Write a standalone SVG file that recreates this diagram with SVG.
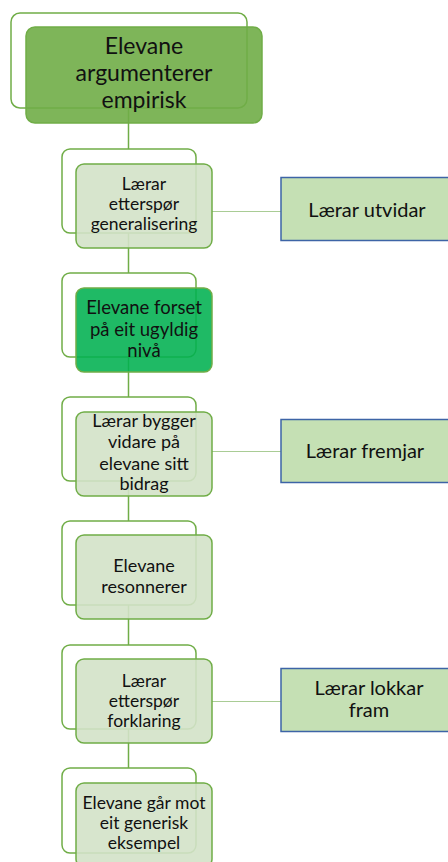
<svg xmlns="http://www.w3.org/2000/svg" width="448" height="862" viewBox="0 0 448 862">
  <style>
    .spine { stroke: #70AD47; stroke-width: 1.5; fill: none; }
    .branch { stroke: #A9CC95; stroke-width: 1; fill: none; }
    .back { fill: #FFFFFF; stroke: #70AD47; stroke-width: 1.5; }
    .front-light { fill: #D3E2C8; fill-opacity: 0.9; stroke: #70AD47; stroke-width: 1.5; }
    .front-main { fill: #70AD47; fill-opacity: 0.9; stroke: #70AD47; stroke-width: 1.5; }
    .front-bright { fill: #00B050; fill-opacity: 0.88; stroke: #70AD47; stroke-width: 1.5; }
    .side { fill: #C5E0B4; stroke: #3D64A6; stroke-width: 1.5; }
    text { font-family: Lato, "Noto Sans", "Liberation Sans", sans-serif; fill: #111111; text-anchor: middle; }
    .t-big { font-size: 23px; }
    .t-19 { font-size: 18.5px; }
    .t-185 { font-size: 18px; }
    .t-18 { font-size: 17.5px; }
    .t-side { font-size: 20px; }
  </style>

  <!-- connectors: vertical spine and branches to the side boxes -->
  <g id="connectors">
    <line class="spine" x1="128.5" y1="108" x2="128.5" y2="790"/>
    <line class="branch" x1="212" y1="211.5" x2="281" y2="211.5"/>
    <line class="branch" x1="212" y1="451.5" x2="281" y2="451.5"/>
    <line class="branch" x1="212" y1="701.5" x2="281" y2="701.5"/>
  </g>

  <g id="node-empirisk">
    <rect class="back" x="11" y="13" width="236" height="95" rx="9"/>
    <rect class="front-main" x="26" y="27" width="236" height="96" rx="9"/>
    <text class="t-big" x="144" y="54">Elevane</text>
    <text class="t-big" x="144" y="81">argumenterer</text>
    <text class="t-big" x="144" y="108">empirisk</text>
  </g>

  <g id="node-generalisering">
    <rect class="back" x="62" y="149" width="134" height="84" rx="8"/>
    <rect class="front-light" x="76" y="164" width="136" height="84" rx="8"/>
    <text class="t-18" x="144" y="190">Lærar</text>
    <text class="t-18" x="144" y="210">etterspør</text>
    <text class="t-18" x="144" y="230">generalisering</text>
  </g>

  <g id="node-utvidar">
    <rect class="side" x="281" y="177.5" width="175" height="63"/>
    <text class="t-side" x="367" y="217">Lærar utvidar</text>
  </g>

  <g id="node-ugyldig">
    <rect class="back" x="62" y="273" width="134" height="84" rx="8"/>
    <rect class="front-bright" x="76" y="288" width="136" height="84" rx="8"/>
    <text class="t-19" x="144" y="314">Elevane forset</text>
    <text class="t-19" x="144" y="336">på eit ugyldig</text>
    <text class="t-19" x="144" y="357">nivå</text>
  </g>

  <g id="node-bidrag">
    <rect class="back" x="62" y="397" width="134" height="84" rx="8"/>
    <rect class="front-light" x="76" y="412" width="136" height="84" rx="8"/>
    <text class="t-185" x="144" y="427">Lærar bygger</text>
    <text class="t-185" x="144" y="448">vidare på</text>
    <text class="t-185" x="144" y="470">elevane sitt</text>
    <text class="t-185" x="144" y="490">bidrag</text>
  </g>

  <g id="node-fremjar">
    <rect class="side" x="281" y="419.5" width="175" height="63"/>
    <text class="t-side" x="365" y="458">Lærar fremjar</text>
  </g>

  <g id="node-resonnerer">
    <rect class="back" x="62" y="521" width="134" height="84" rx="8"/>
    <rect class="front-light" x="76" y="535" width="136" height="84" rx="8"/>
    <text class="t-185" x="144" y="572">Elevane</text>
    <text class="t-185" x="144" y="593">resonnerer</text>
  </g>

  <g id="node-forklaring">
    <rect class="back" x="62" y="645" width="134" height="84" rx="8"/>
    <rect class="front-light" x="76" y="659" width="136" height="84" rx="8"/>
    <text class="t-18" x="144" y="687">Lærar</text>
    <text class="t-18" x="144" y="707">etterspør</text>
    <text class="t-18" x="144" y="727">forklaring</text>
  </g>

  <g id="node-lokkar">
    <rect class="side" x="281" y="668.5" width="175" height="63"/>
    <text class="t-side" x="369" y="695">Lærar lokkar</text>
    <text class="t-side" x="369" y="717">fram</text>
  </g>

  <g id="node-generisk">
    <rect class="back" x="62" y="768" width="134" height="85" rx="8"/>
    <rect class="front-light" x="76" y="783" width="136" height="84" rx="8"/>
    <text class="t-18" x="144" y="809">Elevane går mot</text>
    <text class="t-18" x="144" y="829">eit generisk</text>
    <text class="t-18" x="144" y="849">eksempel</text>
  </g>
</svg>
